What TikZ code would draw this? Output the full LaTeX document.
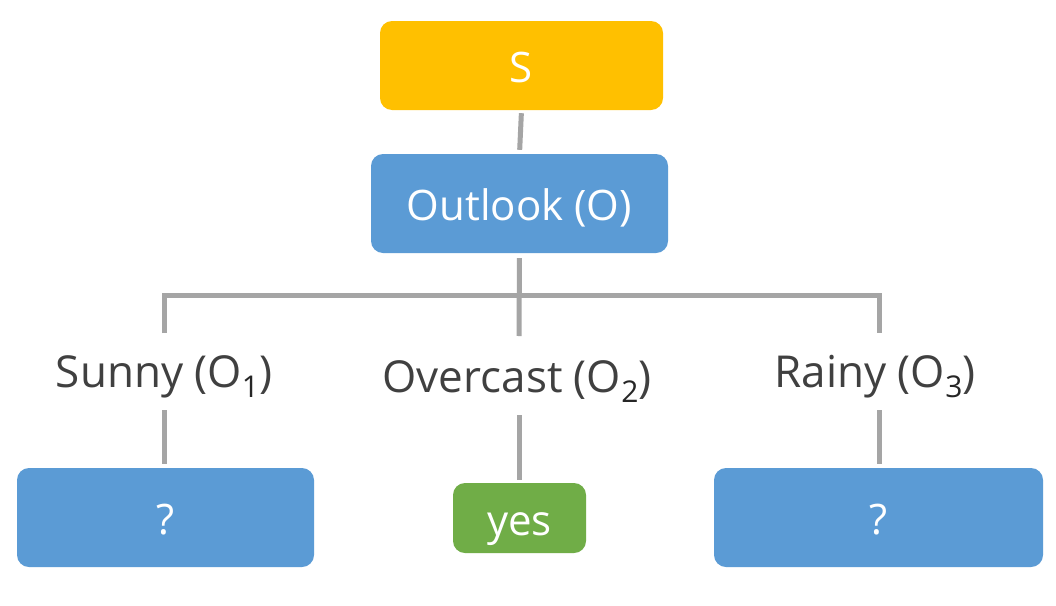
\documentclass[tikz,border=0pt]{standalone}
\usepackage{fontspec}
\setmainfont{Open Sans}
\definecolor{cyellow}{HTML}{FFC000}
\definecolor{cblue}{HTML}{5B9BD5}
\definecolor{cgreen}{HTML}{70AD47}
\definecolor{cgray}{HTML}{A5A5A5}
\definecolor{ctext}{HTML}{404040}
\definecolor{csub}{HTML}{262626}
\newcommand{\subtxt}[1]{\raisebox{-10pt}{\textcolor{csub}{\fontsize{30}{30}\selectfont #1}}}
\tikzset{
  box/.style={rectangle, rounded corners=12pt, draw=none, text=white, inner sep=0pt,
              text height=34pt, text depth=0pt,
              font=\fontsize{42}{48}\selectfont},
  lab/.style={text=ctext, inner sep=0pt, text height=31pt, text depth=0pt,
              font=\fontsize{44}{50}\selectfont},
  conn/.style={draw=cgray, line width=5pt, line join=miter}
}
\begin{document}
\begin{tikzpicture}[x=1pt,y=-1pt]
\useasboundingbox[fill=white] (0,0) rectangle (1056,605);
\node[box, fill=cyellow, minimum width=283pt, minimum height=89pt] (s) at (521.5,65.5) {S};
\node[box, fill=cblue, minimum width=297pt, minimum height=99pt] (outlook) at (519.5,203.5) {Outlook (O)};
\node[lab] (sunny) at (164,372) {Sunny (O\subtxt{1})};
\node[lab] (overcast) at (517,377) {Overcast (O\subtxt{2})};
\node[lab] (rainy) at (875,372) {Rainy (O\subtxt{3})};
\node[box, fill=cblue, minimum width=297pt, minimum height=99pt] (q1) at (165.5,517.5) {?};
\node[box, fill=cgreen, minimum width=133pt, minimum height=70pt] (yes) at (519.5,518) {yes};
\node[box, fill=cblue, minimum width=329pt, minimum height=99pt] (q3) at (878.5,517.5) {?};
\coordinate (hub) at (519,295);
\coordinate (t1) at (164,333);
\coordinate (t3) at (879,333);
\coordinate (t2) at (519,336);
\coordinate (b1) at (164,410);
\coordinate (b2) at (519,415);
\coordinate (b3) at (879,410);
\draw[conn, shorten <=3pt, shorten >=4pt] (s.south) -- (outlook.north);
\draw[conn] (t1) |- (hub) -| (t3);
\draw[conn, shorten <=5pt] (outlook.south) -- (t2);
\draw[conn, shorten >=4pt] (b1) -- (b1 |- q1.north);
\draw[conn, shorten >=3pt] (b2) -- (b2 |- yes.north);
\draw[conn, shorten >=4pt] (b3) -- (b3 |- q3.north);
\end{tikzpicture}
\end{document}
